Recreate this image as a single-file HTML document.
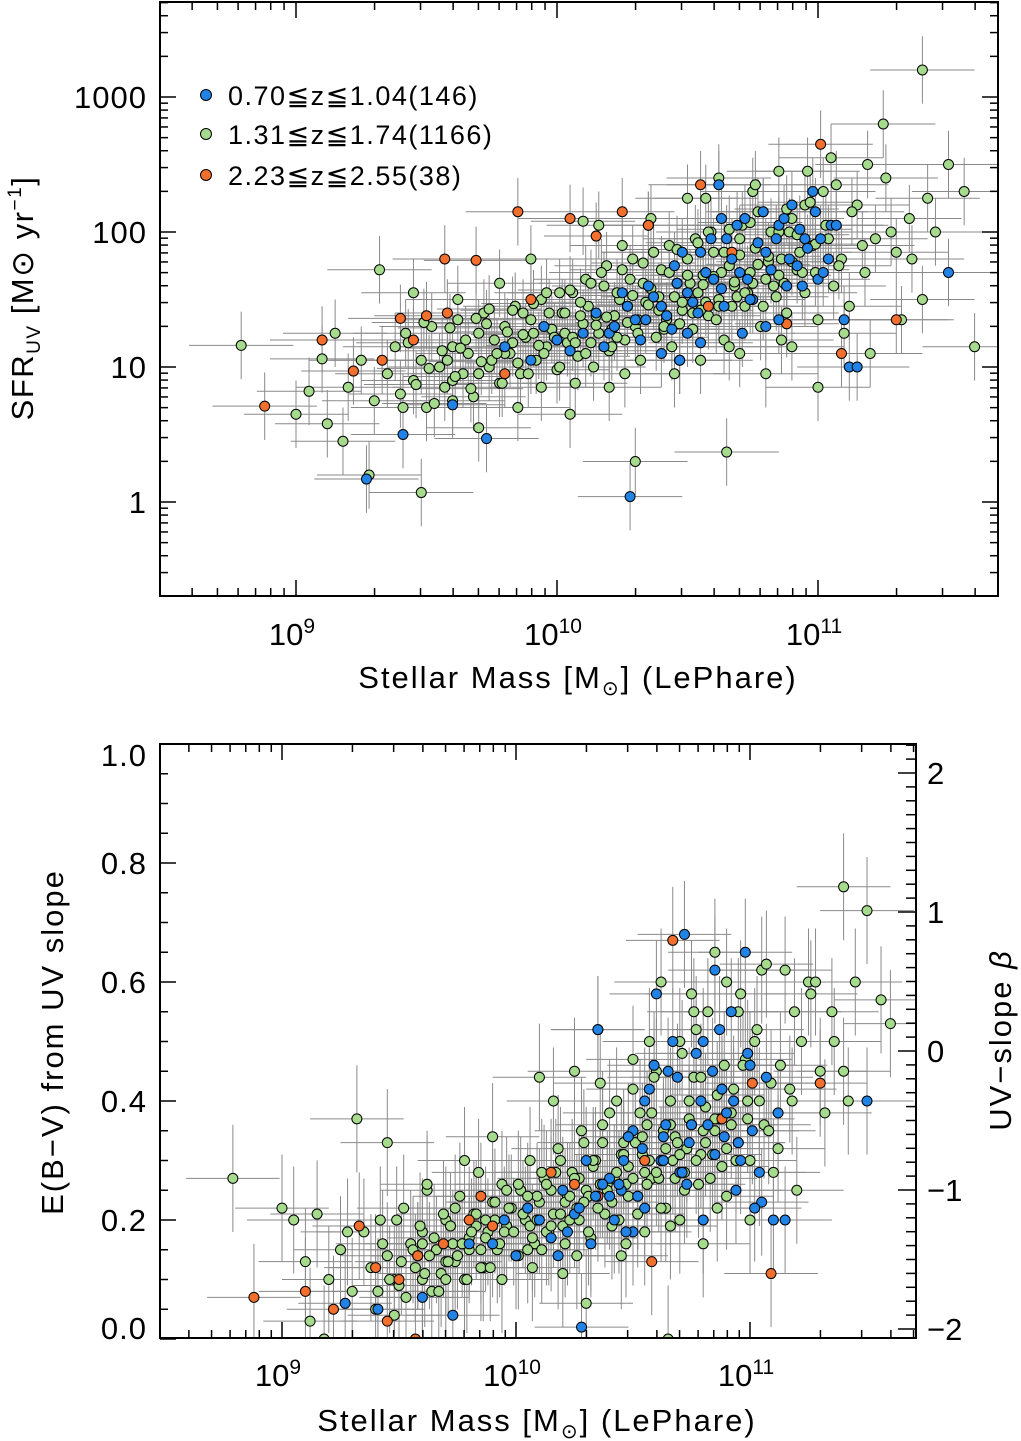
<!DOCTYPE html>
<html><head><meta charset="utf-8">
<style>
body{margin:0;background:#fff;}
svg{display:block;font-family:"Liberation Sans","DejaVu Sans",sans-serif;}
text{fill:#000;}
</style></head>
<body>
<svg id="fig" width="1021" height="1441" viewBox="0 0 1021 1441"></svg>
<script>
// shared galaxy data: logMass, logSFR, E(B-V)
const greenMass=[9.20,9.25,9.30,9.35,9.38,9.40,9.42,9.45,9.48,9.50,9.52,9.55,9.57,9.60,9.62,9.64,9.66,9.68,9.70,9.72,9.74,9.76,9.78,9.80,9.82,9.84,9.86,9.88,9.90,9.92,9.94,9.96,9.98,10.00,10.02,10.04,10.06,10.08,10.10,10.12,10.14,10.16,10.18,10.20,10.22,10.24,10.26,10.28,10.30,10.32,10.34,10.36,10.38,10.40,10.42,10.44,10.46,10.48,10.50,10.52,10.54,10.56,10.58,10.60,10.62,10.64,10.66,10.68,10.70,10.72,10.74,10.76,10.78,10.80,10.82,10.84,10.86,10.88,10.90,10.92,10.95,10.98,11.00,11.03,11.06,11.09,11.12,11.15,11.18,11.22,11.26,11.30,11.35,11.40,11.45,8.79,9.00,9.05,9.10,9.12,9.15,9.18,9.28,9.32,9.45,9.48,9.60,9.70,9.85,9.90,10.05,10.10,10.20,10.25,10.30,10.35,10.45,10.50,10.55,10.62,10.65,10.70,10.75,10.80,10.85,10.90,10.95,11.00,11.05,11.10,11.20,11.25,11.32,11.40,11.50,11.56,11.60,9.65,9.75,9.83,9.91,9.97,10.03,10.09,10.15,10.21,10.27,10.33,10.39,10.45,10.51,10.57,10.63,10.69,10.75,10.81,10.87,10.93,10.99,9.58,9.70,9.80,9.95,10.06,10.13,10.23,10.31,10.41,10.47,10.55,10.61,10.67,10.73,10.79,10.85,9.60,9.73,9.87,10.01,10.11,10.19,10.29,10.37,10.43,10.53,10.59,10.71,10.77,10.89,
9.41,9.43,9.46,9.49,9.51,9.53,9.56,9.59,9.61,9.63,9.67,9.69,9.71,9.74,9.77,9.79,9.81,9.83,9.85,9.87,9.89,9.91,9.93,9.96,9.99,10.01,10.03,10.05,10.07,10.09,10.11,10.13,10.15,10.17,10.19,10.21,10.23,10.25,10.27,10.29,10.31,10.33,10.35,10.37,10.39,10.41,10.43,10.46,10.48,10.50,10.52,10.54,10.56,10.58,10.60,10.62,10.64,10.66,10.68,10.70,10.72,10.74,10.77,10.79,10.81,10.83,10.85,10.88,10.90,10.92,10.94,10.97,10.99,11.02,11.04,11.08,11.13,11.17,9.62,9.78,9.94,10.07,10.16,10.26,10.36,10.47,10.57,10.66,10.76,10.86,10.96,11.07,11.19,11.28,11.36,11.42];
const greenSFR=[0.85,1.05,0.75,0.95,1.15,0.80,1.25,0.90,1.05,0.70,1.30,1.00,0.85,1.15,1.35,0.95,1.10,0.78,1.25,1.40,1.00,1.20,0.88,1.30,1.10,1.45,0.95,1.22,1.35,1.05,1.50,1.15,1.28,0.98,1.40,1.18,1.55,1.08,1.32,1.45,1.00,1.25,1.60,1.12,1.38,1.50,1.20,1.65,1.30,1.05,1.48,1.58,1.22,1.72,1.35,1.15,1.62,1.42,1.80,1.28,1.55,1.68,1.38,1.85,1.50,1.20,1.75,1.60,1.95,1.45,1.70,1.88,1.30,1.65,2.00,1.52,1.80,1.40,2.10,1.72,1.55,1.90,1.35,2.05,1.60,1.80,1.45,2.20,1.70,1.95,2.40,1.85,2.10,3.20,2.00,1.16,0.65,0.82,1.06,0.58,1.25,0.45,0.20,1.72,1.55,0.07,0.75,0.55,0.70,1.80,0.65,2.08,0.85,1.90,0.30,2.05,0.95,2.25,1.05,2.40,0.37,1.10,2.30,0.95,2.45,1.15,2.20,0.85,2.55,1.25,1.10,2.80,1.35,1.50,2.50,2.30,1.15,1.20,1.05,1.18,1.25,1.40,1.25,1.48,1.38,1.28,1.45,1.62,1.42,1.52,1.62,1.48,1.70,1.52,1.62,1.78,1.62,1.85,1.70,1.05,0.95,1.10,1.10,1.22,1.18,1.22,1.35,1.28,1.32,1.42,1.35,1.45,1.55,1.45,1.68,0.90,1.32,1.40,1.55,1.65,1.75,1.80,1.85,1.90,1.95,2.00,2.05,2.15,2.00,
0.70,1.18,0.87,1.33,0.99,0.73,1.12,1.29,0.93,1.14,0.84,1.36,1.04,1.43,1.10,0.88,1.26,1.42,1.03,1.24,0.95,1.47,1.16,1.55,1.22,1.00,1.40,1.57,1.18,1.38,1.10,1.62,1.31,1.70,1.37,1.15,1.55,1.72,1.33,1.53,1.25,1.77,1.46,1.85,1.52,1.30,1.70,1.87,1.48,1.68,1.40,1.92,1.61,2.00,1.67,1.45,1.85,2.02,1.63,1.83,1.55,2.07,1.76,2.15,1.82,1.60,2.00,2.17,1.78,1.98,1.70,2.22,1.91,2.30,1.95,1.75,2.15,1.90,1.50,1.62,0.85,0.88,2.05,0.95,2.10,1.05,2.25,1.15,2.35,1.20,2.45,2.35,2.50,2.00,1.80,2.25];
const greenEBV=[0.10,0.15,0.08,0.18,0.12,0.05,0.20,0.14,0.10,0.09,0.22,0.16,0.12,0.18,0.25,0.08,0.15,0.11,0.20,0.19,0.13,0.24,0.10,0.17,0.21,0.28,0.12,0.18,0.23,0.15,0.26,0.19,0.22,0.14,0.25,0.20,0.30,0.16,0.23,0.27,0.18,0.21,0.32,0.19,0.24,0.28,0.22,0.35,0.25,0.17,0.30,0.26,0.21,0.38,0.27,0.20,0.33,0.29,0.42,0.24,0.31,0.36,0.27,0.45,0.30,0.22,0.40,0.34,0.50,0.28,0.37,0.44,0.26,0.35,0.55,0.31,0.41,0.29,0.60,0.38,0.33,0.47,0.30,0.52,0.36,0.43,0.32,0.62,0.40,0.50,0.58,0.45,0.55,0.76,0.60,0.27,0.22,0.20,0.13,0.03,0.21,0.00,0.18,0.37,0.33,0.04,0.16,0.10,0.12,0.34,0.15,0.44,0.11,0.45,0.06,0.52,0.14,0.47,0.18,0.60,0.00,0.20,0.58,0.16,0.65,0.24,0.55,0.20,0.62,0.28,0.25,0.60,0.38,0.45,0.72,0.57,0.53,0.17,0.14,0.19,0.20,0.22,0.21,0.24,0.25,0.23,0.27,0.29,0.26,0.31,0.33,0.30,0.35,0.33,0.36,0.39,0.37,0.42,0.40,0.14,0.13,0.15,0.18,0.19,0.18,0.20,0.24,0.23,0.26,0.28,0.27,0.30,0.32,0.31,0.35,0.10,0.16,0.20,0.26,0.28,0.30,0.33,0.36,0.40,0.38,0.44,0.48,0.52,0.46,
0.08,0.16,0.10,0.20,0.13,0.07,0.15,0.19,0.11,0.14,0.08,0.21,0.13,0.22,0.16,0.10,0.18,0.21,0.15,0.17,0.12,0.23,0.16,0.25,0.18,0.14,0.21,0.24,0.17,0.20,0.15,0.26,0.19,0.28,0.21,0.16,0.24,0.27,0.20,0.23,0.18,0.30,0.22,0.33,0.25,0.19,0.28,0.31,0.24,0.27,0.21,0.34,0.26,0.38,0.28,0.22,0.32,0.36,0.27,0.31,0.25,0.40,0.30,0.44,0.33,0.27,0.37,0.42,0.32,0.36,0.30,0.46,0.37,0.50,0.40,0.35,0.46,0.42,0.26,0.30,0.10,0.12,0.40,0.14,0.43,0.16,0.50,0.19,0.55,0.22,0.58,0.63,0.55,0.60,0.50,0.40];
const blueMass=[9.27,9.41,9.73,9.60,9.80,9.95,10.05,10.15,10.20,10.25,10.30,10.35,10.28,10.40,10.45,10.50,10.55,10.60,10.62,10.65,10.70,10.72,10.75,10.80,10.85,10.88,10.90,10.92,10.95,10.98,11.00,11.05,11.10,11.12,11.02,10.50,10.40,10.85,11.15,11.50,10.00,
10.22,10.27,10.32,10.37,10.42,10.46,10.48,10.52,10.57,10.59,10.63,10.67,10.69,10.73,10.77,10.79,10.82,10.84,10.87,10.89,10.93,10.96,10.99,11.01,11.04,10.10,10.18,10.34,10.44,10.54,10.64,10.74,10.94,10.80,10.55,9.90,10.47,10.71,11.07,10.63];
const blueSFR=[0.17,0.50,0.47,0.72,1.15,1.30,1.12,1.40,1.25,1.55,1.35,1.60,0.04,1.45,1.75,1.55,1.85,1.65,2.35,1.95,1.70,2.10,1.50,1.85,2.05,1.60,2.20,1.75,1.95,2.30,1.65,2.05,1.35,1.00,1.70,1.25,1.10,1.35,1.00,1.70,1.20,
1.30,1.45,1.20,1.52,1.38,1.62,1.85,1.48,1.70,1.95,1.58,1.80,2.05,1.65,1.92,2.15,1.72,1.95,2.10,1.80,2.02,1.88,2.15,1.95,1.80,1.25,1.15,1.35,1.28,1.40,1.45,1.50,1.60,1.30,1.18,1.05,1.05,1.25,2.05,2.10];
const blueEBV=[0.06,0.05,0.04,0.07,0.16,0.20,0.22,0.17,0.25,0.21,0.30,0.52,0.02,0.27,0.25,0.35,0.40,0.58,0.30,0.45,0.28,0.68,0.36,0.50,0.62,0.42,0.38,0.55,0.33,0.65,0.46,0.23,0.20,0.38,0.22,0.18,0.24,0.31,0.20,0.40,0.14,
0.18,0.22,0.16,0.26,0.20,0.30,0.34,0.24,0.42,0.46,0.30,0.50,0.44,0.26,0.48,0.40,0.36,0.45,0.52,0.34,0.40,0.30,0.48,0.35,0.28,0.20,0.14,0.24,0.26,0.32,0.36,0.33,0.25,0.20,0.22,0.16,0.18,0.28,0.44,0.34];
const orangeMass=[8.88,9.10,9.22,9.33,9.40,9.45,9.50,9.58,9.69,9.80,9.85,9.90,10.05,10.15,10.25,10.35,10.55,10.58,10.67,10.88,11.01,11.09,11.30,9.57];
const orangeSFR=[0.71,1.20,0.97,1.05,1.36,1.20,1.38,1.40,1.79,0.95,2.15,1.50,2.10,1.97,2.15,2.05,2.35,1.45,1.85,1.32,2.65,1.10,1.35,1.80];
const orangeEBV=[0.07,0.08,0.05,0.19,0.12,0.03,0.10,0.14,0.16,0.20,0.24,0.19,0.22,0.28,0.26,0.24,0.30,0.13,0.67,0.37,0.43,0.11,0.43,0.00];
const legendLabels=["0.70\u2266z\u22661.04(146)","1.31\u2266z\u22661.74(1166)","2.23\u2266z\u22662.55(38)"];
const topYTicks=[0,1,2,3];
const topYTickLabels=["1","10","100","1000"];
const xTicks=[9,10,11];
const ebvTicks=[0,0.2,0.4,0.6,0.8,1.0];
const ebvTickLabels=["0.0","0.2","0.4","0.6","0.8","1.0"];
const betaTicks=[-2,-1,0,1,2];
const betaTickLabels=["\u22122","\u22121","0","1","2"];

const NS="http://www.w3.org/2000/svg";
const svg=document.getElementById('fig');
function el(tag,attrs,parent){const e=document.createElementNS(NS,tag);for(const k in attrs)e.setAttribute(k,attrs[k]);(parent||svg).appendChild(e);return e;}

const T={x0:160,x1:998,y0:2,y1:596};
const tx=m=>296+(m-9)*261;
const ty=s=>502-s*135;
const B={x0:160,x1:916,y0:744,y1:1338};
const bx=m=>282+(m-9)*234;
const by=e=>1339-e*595;
const bb=b=>912+(1-b)*139;

const colors={green:"#a6db8e",blue:"#2183e6",orange:"#f26f2e"};

const defs=el('defs',{});
[['ct',T],['cb',B]].forEach(([id,P])=>{const c=document.createElementNS(NS,'clipPath');c.setAttribute('id',id);defs.appendChild(c);el('rect',{x:P.x0,y:P.y0,width:P.x1-P.x0,height:P.y1-P.y0},c);});

function drawErr(g,mass,vals,fx,fy,ex,ey,name){
  const eg=el('g',{stroke:"#8a8a8a","stroke-width":1},g);
  
  
  for(let i=0;i<mass.length;i++){
    const x=fx(mass[i]),y=fy(vals[i]);
    el('line',{x1:fx(mass[i]-ex),x2:fx(mass[i]+ex),y1:y,y2:y},eg);
    el('line',{x1:x,x2:x,y1:fy(vals[i]-ey),y2:fy(vals[i]+ey)},eg);
  }
}
function drawPts(g,mass,vals,fx,fy,col,name){
  const pg=el('g',{},g);
  
  
  for(let i=0;i<mass.length;i++){
    const c=el('circle',{cx:fx(mass[i]),cy:fy(vals[i]),r:5,fill:col,stroke:"#000","stroke-width":1},pg);
    
    
  }
}

function logTicksX(P,fx,lo,hi,side){
  const g=el('g',{stroke:"#000","stroke-width":1.5});
  
  
  for(let d=lo;d<=hi;d++)for(let k=1;k<10;k++){
    const x=fx(d+Math.log10(k));if(x<P.x0||x>P.x1)continue;
    const L=k==1?16:8;
    el('line',{x1:x,x2:x,y1:P.y1,y2:P.y1-L},g);
    el('line',{x1:x,x2:x,y1:P.y0,y2:P.y0+L},g);
  }
}

// ---- top panel
const gt=el('g',{'clip-path':'url(#ct)'});


drawErr(gt,greenMass,greenSFR,tx,ty,0.2,0.25,'green-series');
drawErr(gt,orangeMass,orangeSFR,tx,ty,0.2,0.25,'orange-series');
drawErr(gt,blueMass,blueSFR,tx,ty,0.2,0.25,'blue-series');
drawPts(gt,greenMass,greenSFR,tx,ty,colors.green,'green-series');
drawPts(gt,orangeMass,orangeSFR,tx,ty,colors.orange,'orange-series');
drawPts(gt,blueMass,blueSFR,tx,ty,colors.blue,'blue-series');
const ft=el('rect',{x:T.x0,y:T.y0,width:T.x1-T.x0,height:T.y1-T.y0,fill:"none",stroke:"#000","stroke-width":2});


logTicksX(T,tx,8,11,'top');
const gy=el('g',{stroke:"#000","stroke-width":1.5});


for(let d=-1;d<=3;d++)for(let k=1;k<10;k++){
  const y=ty(d+Math.log10(k));if(y<T.y0||y>T.y1)continue;
  const L=k==1?16:8;
  el('line',{x1:T.x0,x2:T.x0+L,y1:y,y2:y},gy);
  el('line',{x1:T.x1,x2:T.x1-L,y1:y,y2:y},gy);
}
topYTicks.forEach((v,i)=>{const t=el('text',{x:147,y:ty(v)+11,"font-size":31,"text-anchor":"end","letter-spacing":"1"});t.textContent=topYTickLabels[i];

});
xTicks.forEach(v=>{const t=el('text',{x:tx(v)-4,y:645,"font-size":31,"text-anchor":"middle"});t.innerHTML='10<tspan dy="-12" font-size="21">'+v+'</tspan>';

});
let t1=el('text',{x:578,y:688,"font-size":31,"text-anchor":"middle","letter-spacing":"2"});
t1.innerHTML='Stellar Mass [M<tspan dy="7" font-size="20">\u2299</tspan><tspan dy="-7">] (LePhare)</tspan>';


let t2=el('text',{x:0,y:0,"font-size":31,"text-anchor":"middle","letter-spacing":"1.5","transform":"translate(33,298) rotate(-90)"});
t2.innerHTML='SFR<tspan dy="7" font-size="19">UV</tspan><tspan dy="-7"> [M\u2299 yr</tspan><tspan dy="-12" font-size="19">\u22121</tspan><tspan dy="12">]</tspan>';


const lg=el('g',{});


[colors.blue,colors.green,colors.orange].forEach((c,i)=>{
  const y=[95,134,175][i];
  const ci=el('circle',{cx:206,cy:y,r:5.5,fill:c,stroke:"#000","stroke-width":1},lg);
  
  
  const tt=el('text',{x:228,y:y+10,"font-size":27,"letter-spacing":"1.5"},lg);
  tt.textContent=legendLabels[i];
  
  
});

// ---- bottom panel
const gb=el('g',{'clip-path':'url(#cb)'});


drawErr(gb,greenMass,greenEBV,bx,by,0.2,0.09,'green-series-ebv');
drawErr(gb,orangeMass,orangeEBV,bx,by,0.2,0.09,'orange-series-ebv');
drawErr(gb,blueMass,blueEBV,bx,by,0.2,0.09,'blue-series-ebv');
drawPts(gb,greenMass,greenEBV,bx,by,colors.green,'green-series-ebv');
drawPts(gb,orangeMass,orangeEBV,bx,by,colors.orange,'orange-series-ebv');
drawPts(gb,blueMass,blueEBV,bx,by,colors.blue,'blue-series-ebv');
const fb=el('rect',{x:B.x0,y:B.y0,width:B.x1-B.x0,height:B.y1-B.y0,fill:"none",stroke:"#000","stroke-width":2});


logTicksX(B,bx,8,11,'bottom');
const gl=el('g',{stroke:"#000","stroke-width":1.5});


for(let v=0;v<=1.001;v+=0.05){const y=by(v);const maj=Math.abs(v*5-Math.round(v*5))<0.01;el('line',{x1:B.x0,x2:B.x0+(maj?16:8),y1:y,y2:y},gl);}
for(let b=-2;b<=2.21;b+=0.1){const y=bb(b);if(y<B.y0||y>B.y1)continue;const maj=Math.abs(b-Math.round(b))<0.01;el('line',{x1:B.x1,x2:B.x1-(maj?18:10),y1:y,y2:y},gl);}
ebvTicks.forEach((v,i)=>{let y=by(v)+11;if(v>=0.99)y+=11;if(v<=0.01)y-=11;const t=el('text',{x:147,y:y,"font-size":31,"text-anchor":"end","letter-spacing":"1"});t.textContent=ebvTickLabels[i];

});
betaTicks.forEach((v,i)=>{const t=el('text',{x:927,y:bb(v)+11,"font-size":31});t.textContent=betaTickLabels[i];

});
xTicks.forEach(v=>{const t=el('text',{x:bx(v)-4,y:1386,"font-size":31,"text-anchor":"middle"});t.innerHTML='10<tspan dy="-12" font-size="21">'+v+'</tspan>';

});
let t3=el('text',{x:537,y:1431,"font-size":31,"text-anchor":"middle","letter-spacing":"2"});
t3.innerHTML='Stellar Mass [M<tspan dy="7" font-size="20">\u2299</tspan><tspan dy="-7">] (LePhare)</tspan>';


let t4=el('text',{x:0,y:0,"font-size":31,"text-anchor":"middle","letter-spacing":"2","transform":"translate(63,1042) rotate(-90)"});
t4.textContent='E(B\u2212V) from UV slope';


let t5=el('text',{x:0,y:0,"font-size":31,"text-anchor":"middle","letter-spacing":"2","transform":"translate(1011,1040) rotate(-90)"});
t5.innerHTML='UV\u2212slope <tspan font-style="italic">\u03b2</tspan>';


</script>
</body></html>
